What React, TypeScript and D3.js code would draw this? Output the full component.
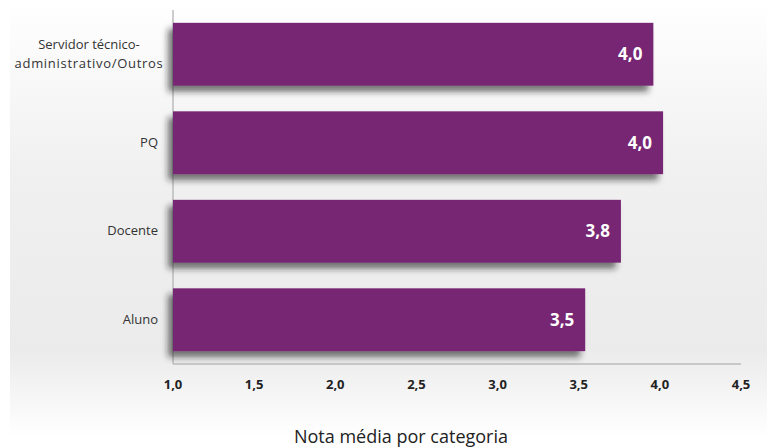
import React from "react";
import * as d3 from "d3";

const categories = ["Servidor técnico-administrativo/Outros", "PQ", "Docente", "Aluno"];
const categoryLines = [["Servidor técnico-", "administrativo/Outros"], ["PQ"], ["Docente"], ["Aluno"]];
const values = [3.96, 4.02, 3.76, 3.54];
const valueLabels = ["4,0", "4,0", "3,8", "3,5"];
const ticks = [1.0, 1.5, 2.0, 2.5, 3.0, 3.5, 4.0, 4.5];
const axisTitle = "Nota média por categoria";

const W = 767;
const H = 448;
const FONT = "'Open Sans', 'Noto Sans', sans-serif";

export default function App() {
  const x = d3.scaleLinear().domain([1, 4.5]).range([173, 741]);
  const y = d3
    .scaleBand<string>()
    .domain(categories)
    .range([10, 364])
    .paddingInner(0.29)
    .paddingOuter(0.145);
  const fmt = (v: number) => d3.format(".1f")(v).replace(".", ",");
  const labelRight = 158;
  const multiCenter = 89;

  return (
    <svg
      width={W}
      height={H}
      style={{ position: "absolute", left: 0, top: 0, background: "#fff" }}
    >
      <defs>
        <linearGradient id="bg" x1="0" y1="0" x2="0" y2="1">
          <stop offset="0" stopColor="#ffffff" />
          <stop offset="0.4" stopColor="#f0f0f0" />
          <stop offset="0.8" stopColor="#ebebeb" />
          <stop offset="1" stopColor="#ffffff" />
        </linearGradient>
        <filter id="shadow" x="-5%" y="-20%" width="110%" height="160%">
          <feDropShadow dx="-5" dy="6" stdDeviation="3" floodColor="#222" floodOpacity="0.6" />
        </filter>
      </defs>
      <rect x={10} y={0} width={W - 10} height={437} fill="url(#bg)" />

      <line x1={x(1)} x2={x(1)} y1={10} y2={364} stroke="#bbbbbb" strokeWidth={1.5} />
      <line x1={x(1)} x2={x(4.5)} y1={364} y2={364} stroke="#bbbbbb" strokeWidth={1.5} />

      {categories.map((c, i) => {
        const y0 = y(c)!;
        const bw = y.bandwidth();
        const cy = y0 + bw / 2;
        const lines = categoryLines[i];
        const multi = lines.length > 1;
        return (
          <g key={c}>
            <rect
              x={x(1)}
              y={y0}
              width={x(values[i]) - x(1)}
              height={bw}
              fill="#772673"
              filter="url(#shadow)"
            />
            <text
              x={x(values[i]) - 11}
              y={cy}
              dy="0.36em"
              textAnchor="end"
              fill="#ffffff"
              fontFamily={FONT}
              fontWeight={700}
              fontSize={17}
            >
              {valueLabels[i]}
            </text>
            {lines.map((ln, j) => (
              <text
                key={j}
                x={multi ? multiCenter : labelRight}
                y={cy - 0.6 + (j - (lines.length - 1) / 2) * 18.7}
                dy="0.36em"
                textAnchor={multi ? "middle" : "end"}
                fill="#333333"
                fontFamily={FONT}
                fontSize={13}
                letterSpacing={multi && j === 1 ? 0.7 : 0}
              >
                {ln}
              </text>
            ))}
          </g>
        );
      })}

      {ticks.map((t) => (
        <text
          key={t}
          x={x(t)}
          y={384}
          dy="0.36em"
          textAnchor="middle"
          fill="#222222"
          fontFamily={FONT}
          fontWeight={700}
          fontSize={13}
        >
          {fmt(t)}
        </text>
      ))}

      <text
        x={401}
        y={437}
        dy="0.36em"
        textAnchor="middle"
        fill="#222222"
        fontFamily={FONT}
        fontSize={18}
      >
        {axisTitle}
      </text>
    </svg>
  );
}
